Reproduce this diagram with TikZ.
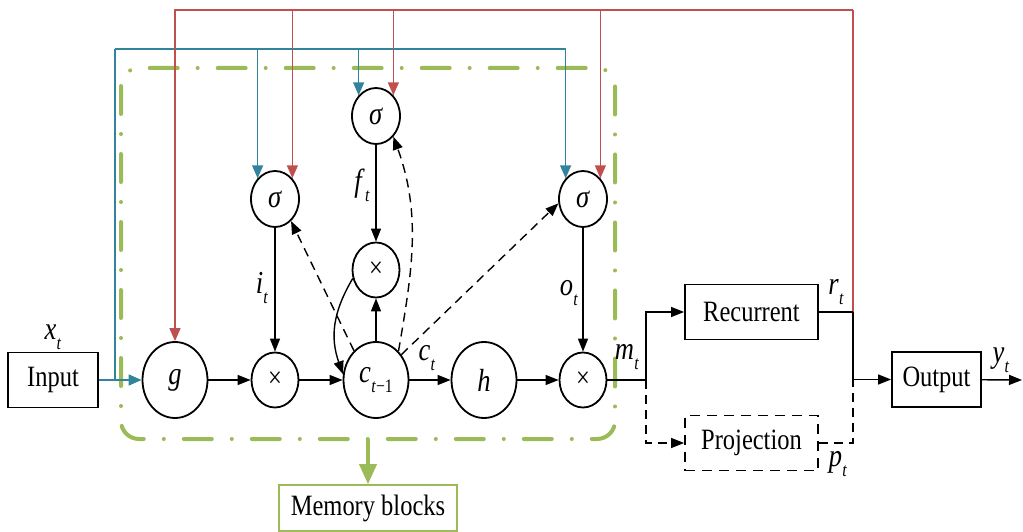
\documentclass[tikz,border=0pt]{standalone}
\usepackage{fontspec}
\setmainfont{Liberation Serif}[FakeStretch=0.83]
\usetikzlibrary{shapes.geometric,arrows.meta}
\definecolor{gatered}{HTML}{C0504D}
\definecolor{gateblue}{HTML}{31849B}
\definecolor{blockgreen}{HTML}{9BBB59}
% italic variable with a lowered italic subscript
\newcommand{\varfont}{\fontsize{32}{34}\selectfont}
\newcommand{\subfont}{\fontsize{19}{19}\selectfont}
\newcommand{\var}[2]{{\varfont\textit{#1}}\kern0.3pt\raisebox{-0.34em}{\subfont\textit{#2}}}
\begin{document}
\begin{tikzpicture}[x=1pt,y=-1pt,font=\fontsize{29.5}{31}\selectfont,
  unit/.style={ellipse,draw,line width=1.8pt,inner sep=0pt},
  bigunit/.style={unit,minimum width=65pt,minimum height=76pt},
  mulunit/.style={unit,minimum width=47pt,minimum height=55pt},
  gateunit/.style={unit,minimum width=48pt,minimum height=56pt},
  blk/.style={draw,line width=1.8pt,minimum height=55pt,inner sep=0pt},
  tip/.style={-{Triangle[length=13pt,width=10pt]}},
  flow/.style={line width=1.4pt,tip},
  plain/.style={line width=1.4pt},
  dashline/.style={line width=1.4pt,dash pattern=on 9pt off 6pt},
  peep/.style={dashline,tip},
  bl/.style={gateblue,line width=1.5pt},
  rd/.style={gatered,line width=1.5pt},
  ctip/.style={-{Triangle[length=13pt,width=11pt]}},
  frame/.style={blockgreen,line width=4pt,line cap=round,rounded corners=18pt,
    dash pattern=on 28pt off 20pt on 0pt off 20pt},
  memarrow/.style={blockgreen,line width=3.6pt,-{Triangle[length=20pt,width=17pt]}}
]
\useasboundingbox (0,0) rectangle (1023,532);

% memory block frame
\draw[frame] (121,68) rectangle (615,439);

% nodes
\node[blk,minimum width=90pt] (in) at (53,380) {Input};
\node[bigunit] (g) at (175,380) {\varfont\textit{g}};
\node[mulunit] (im) at (275,380) {×};
\node[bigunit] (c) at (376,380) {{\varfont\textit{c}}\kern0.3pt\raisebox{-0.34em}{\subfont\textit{t}−1}};
\node[bigunit] (h) at (484,380) {\varfont\textit{h}};
\node[mulunit] (om) at (583,380) {×};
\node[mulunit] (fm) at (376,270) {×};
\node[gateunit] (sf) at (376,116) {\varfont\textit{σ}};
\node[gateunit] (si) at (275,199) {\varfont\textit{σ}};
\node[gateunit] (so) at (583,199) {\varfont\textit{σ}};
\node[blk,minimum width=133pt] (rec) at (751.5,312) {Recurrent};
\node[blk,minimum width=133pt,dash pattern=on 10pt off 7pt] (proj) at (751.5,443) {Projection};
\node[blk,minimum width=89pt] (out) at (936.5,379.5) {Output};
\node[draw=blockgreen,line width=1.6pt,minimum width=178pt,minimum height=46pt,inner sep=0pt] (mem) at (368,508) {Memory blocks};

% junction points
\coordinate (bj) at (115,380);
\coordinate (btop) at (115,49);
\coordinate (rj) at (853,312);
\coordinate (rtop) at (853,10);
\coordinate (oj) at (853,380);
\coordinate (mj) at (646,380);
\coordinate (yend) at (1022,380);
\coordinate (gb) at (368,439);

% input bus (blue)
\draw[bl,ctip] (in.east) -- (g.west);
\draw[bl] (bj) -- (btop);
\draw[bl,ctip] (btop) -| (so.130);
\draw[bl,ctip] (btop -| si.130) -- (si.130);
\draw[bl,ctip] (btop -| sf.130) -- (sf.130);

% recurrent bus (red)
\draw[rd] (rj) -- (rtop);
\draw[rd,ctip] (rtop) -| (g.north);
\draw[rd,ctip] (rtop -| si.50) -- (si.50);
\draw[rd,ctip] (rtop -| sf.50) -- (sf.50);
\draw[rd,ctip] (rtop -| so.50) -- (so.50);

% cell data path
\draw[flow] (g) -- (im);
\draw[flow] (im) -- (c);
\draw[flow] (c) -- (h);
\draw[flow] (h) -- (om);
\draw[flow] (si) -- (im);
\draw[flow] (sf) -- (fm);
\draw[flow] (c) -- (fm);
\draw[flow] (so) -- (om);
\draw[flow] (fm.200) .. controls +(-20,34) and +(-13,-37) .. (c.170);

% peephole connections
\draw[peep] (c.127) -- (si.-54);
\draw[peep] (c.52) .. controls +(14,-81) and +(28,77) .. (sf.-50);
\draw[peep] (c.45) -- (so.190);

% output side
\draw[plain] (om) -- (mj);
\draw[flow] (mj) |- (rec);
\draw[peep] (mj) |- (proj);
\draw[plain] (rec) -- (rj);
\draw[flow] (rj) |- (out);
\draw[dashline] (proj.east) -| (oj);
\draw[flow] (out) -- (yend);

% memory block callout
\draw[memarrow] (gb) -- (mem);

% labels
\node (lx) at (53,337) {\var{x}{t}};
\node (li) at (262,288) {\var{i}{t}};
\node (lf) at (362,185) {\var{f}{t}};
\node (lo) at (569,293) {\var{o}{t}};
\node (lc) at (427,358) {\var{c}{t}};
\node (lm) at (627,357) {\var{m}{t}};
\node (lr) at (836,292) {\var{r}{t}};
\node (lp) at (838,464) {\var{p}{t}};
\node (ly) at (1001,360) {\var{y}{t}};
\end{tikzpicture}
\end{document}
